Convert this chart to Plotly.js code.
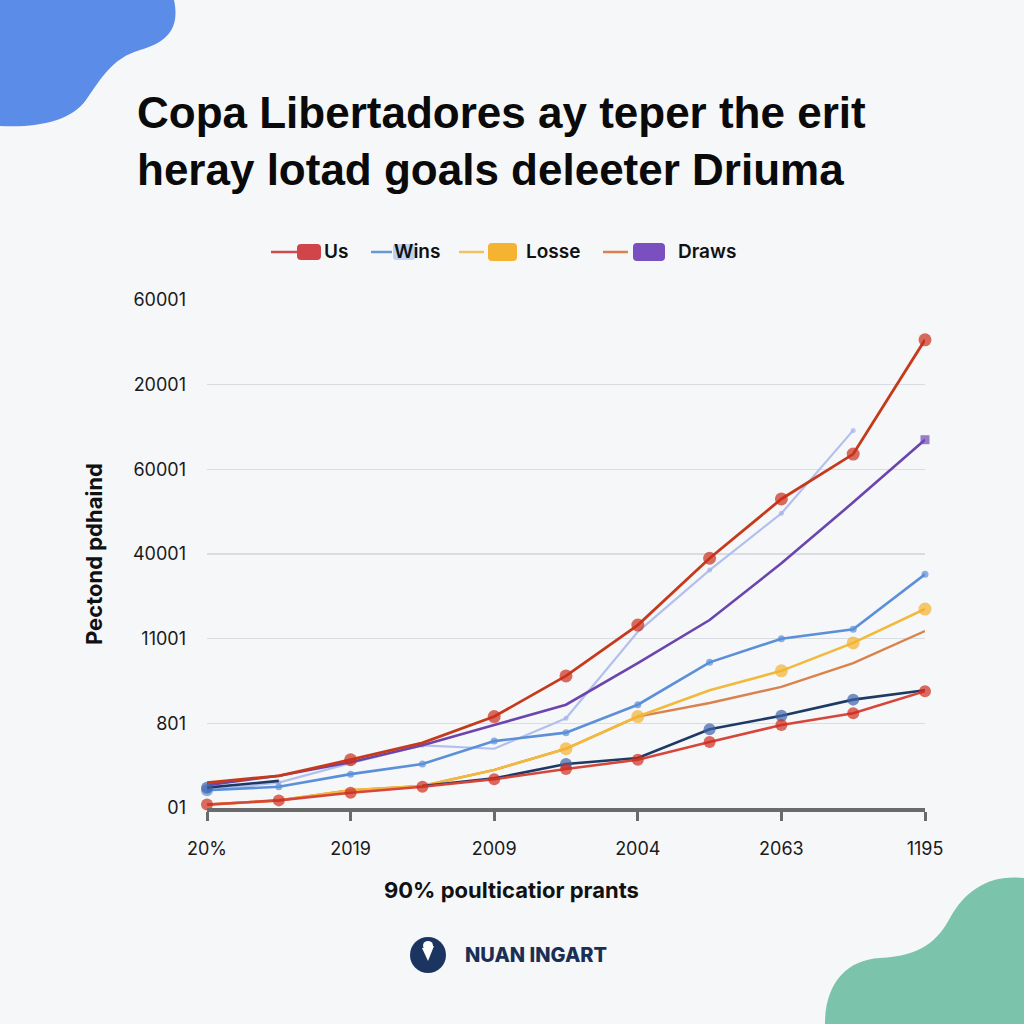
<!DOCTYPE html>
<html>
<head>
<meta charset="utf-8">
<script src="https://cdn.plot.ly/plotly-3.0.1.min.js"></script>
<style>
  html, body { margin: 0; padding: 0; background: #f5f7f9; }
  #chart { width: 1024px; height: 1024px; }
</style>
</head>
<body>
<div id="chart"></div>
<script>
// ---------- data ----------
const xIndex = [0, 1, 2, 3, 4, 5, 6, 7, 8, 9, 10];
const xTickVals = [0, 2, 4, 6, 8, 10];
const xTickText = ['20%', '2019', '2009', '2004', '2063', '1195'];
const yTickVals = [0, 1, 2, 3, 4, 5, 6];
const yTickText = ['01', '801', '11001', '40001', '60001', '20001', '60001'];

const seriesLavender = [0.21, 0.30, 0.53, 0.74, 0.70, 1.06, 2.08, 2.81, 3.48, 4.46, null];
const seriesPurple   = [0.27, 0.38, 0.54, 0.74, 0.98, 1.22, 1.71, 2.22, 2.89, 3.61, 4.35];
const seriesOrange   = [0.04, 0.09, 0.21, 0.26, 0.45, 0.70, 1.08, 1.24, 1.43, 1.71, 2.09];
const seriesYellow   = [0.04, 0.09, 0.21, 0.26, 0.45, 0.70, 1.08, 1.39, 1.62, 1.95, 2.35];
const seriesBlue     = [0.21, 0.25, 0.40, 0.52, 0.79, 0.89, 1.22, 1.72, 2.00, 2.11, 2.76];
const seriesNavy     = [0.24, 0.32, null, 0.26, 0.35, 0.52, 0.59, 0.93, 1.09, 1.28, 1.39];
const seriesRedLow   = [0.04, 0.09, 0.18, 0.25, 0.34, 0.46, 0.57, 0.78, 0.98, 1.12, 1.38];
const seriesRedTop   = [0.30, 0.38, 0.57, 0.77, 1.08, 1.56, 2.16, 2.95, 3.65, 4.18, 5.53];

const legendNames = ['Us', 'Wins', 'Losse', 'Draws'];

// ---------- layout helpers (pixel -> paper) ----------
const L = 207, R = 925, T = 300, B = 808;
const px = x => (x - L) / (R - L);
const py = y => (B - y) / (B - T);

function rrPath(x0, y0, x1, y1, r) {
  const P = (x, y) => px(x) + ',' + py(y);
  return 'M' + P(x0 + r, y0) + ' L' + P(x1 - r, y0) + ' Q' + P(x1, y0) + ' ' + P(x1, y0 + r) +
         ' L' + P(x1, y1 - r) + ' Q' + P(x1, y1) + ' ' + P(x1 - r, y1) +
         ' L' + P(x0 + r, y1) + ' Q' + P(x0, y1) + ' ' + P(x0, y1 - r) +
         ' L' + P(x0, y0 + r) + ' Q' + P(x0, y0) + ' ' + P(x0 + r, y0) + ' Z';
}
function pathPx(cmds) {
  return cmds.map(c => c[0] + (c.length > 1 ? ' ' : '') +
    c.slice(1).reduce((acc, v, i, arr) => {
      if (i % 2 === 0) acc.push(px(v) + ',' + py(arr[i + 1]));
      return acc;
    }, []).join(' ')).join(' ');
}
function sizesAt(idxList, size) {
  return xIndex.map(i => idxList.includes(i) ? size : 0);
}

// ---------- traces ----------
function line(y, color, width, mIdx, mSize, mColor, symbol) {
  return {
    type: 'scatter', mode: 'lines+markers', x: xIndex, y: y,
    line: { color: color, width: width },
    marker: { color: mColor || color, size: sizesAt(mIdx, mSize), symbol: symbol || 'circle', line: { width: 0 } },
    cliponaxis: false, showlegend: false, connectgaps: false, hoverinfo: 'y'
  };
}
const traces = [
  line(seriesLavender, '#b3c0ee', 2.2, [1, 2, 3, 5, 7, 8, 9], 5, '#a5b3e6'),
  line(seriesPurple, '#6b45ad', 2.6, [10], 9, '#7048b8', 'square'),
  line(seriesOrange, '#d9824b', 2.4, [], 0),
  line(seriesYellow, '#f2b93c', 2.6, [5, 6, 8, 9, 10], 13, '#f4b230'),
  line(seriesBlue, '#5b8fd8', 2.6, [0, 1, 2, 3, 4, 5, 6, 7, 8, 9, 10], 7, '#5b8fd8'),
  line(seriesNavy, '#1e3a64', 2.6, [0, 5, 7, 8, 9], 12, '#3f64a8'),
  line(seriesRedLow, '#d6463a', 2.6, xIndex, 12, '#cf2c1c'),
  line(seriesRedTop, '#c63a1c', 2.8, [2, 4, 5, 6, 7, 8, 9, 10], 13, '#cc2e1b')
];
traces[4].marker.size[0] = 12;

// ---------- decoration shapes ----------
const shapes = [
  { type: 'path', xref: 'paper', yref: 'paper', layer: 'below', line: { width: 0 }, fillcolor: '#5b8de8',
    path: pathPx([['M', 0, 0], ['L', 174, 0], ['C', 180, 28, 168, 42, 140, 50], ['C', 112, 58, 100, 80, 86, 100],
                  ['C', 72, 120, 40, 128, 0, 126], ['Z']]) },
  { type: 'path', xref: 'paper', yref: 'paper', layer: 'below', line: { width: 0 }, fillcolor: '#7bc3aa',
    path: pathPx([['M', 1024, 878], ['C', 990, 874, 965, 890, 950, 918], ['C', 938, 940, 922, 956, 880, 958],
                  ['C', 845, 960, 825, 985, 825, 1024], ['L', 1024, 1024], ['Z']]) },
  { type: 'circle', xref: 'paper', yref: 'paper', line: { width: 0 }, fillcolor: '#1b3560',
    x0: px(410), x1: px(446), y0: py(973), y1: py(937) },
  { type: 'path', xref: 'paper', yref: 'paper', line: { width: 0 }, fillcolor: '#ffffff',
    path: pathPx([['M', 422, 948], ['L', 434, 946], ['L', 428, 961], ['Z']]) },
  { type: 'circle', xref: 'paper', yref: 'paper', line: { width: 0 }, fillcolor: '#ffffff',
    x0: px(423), x1: px(433), y0: py(950), y1: py(941) },
  { type: 'line', xref: 'paper', yref: 'paper', x0: px(271), x1: px(297), y0: py(252), y1: py(252), line: { color: '#cf4a4e', width: 2.5 } },
  { type: 'path', xref: 'paper', yref: 'paper', line: { width: 0 }, fillcolor: '#d0454a', path: rrPath(297, 244, 321, 260, 4) },
  { type: 'line', xref: 'paper', yref: 'paper', x0: px(371), x1: px(392), y0: py(252), y1: py(252), line: { color: '#6a97d8', width: 2.5 } },
  { type: 'path', xref: 'paper', yref: 'paper', line: { width: 0 }, fillcolor: '#bcd3f1', path: rrPath(393, 244, 415, 260, 3) },
  { type: 'line', xref: 'paper', yref: 'paper', x0: px(459), x1: px(484), y0: py(252), y1: py(252), line: { color: '#f3c260', width: 2.5 } },
  { type: 'path', xref: 'paper', yref: 'paper', line: { width: 0 }, fillcolor: '#f5b332', path: rrPath(488, 243, 517, 261, 4) },
  { type: 'line', xref: 'paper', yref: 'paper', x0: px(603), x1: px(628), y0: py(252), y1: py(252), line: { color: '#d9824b', width: 2.5 } },
  { type: 'path', xref: 'paper', yref: 'paper', line: { width: 0 }, fillcolor: '#7a4fc0', path: rrPath(633, 243, 665, 261, 4) }
];

const legendFont = { family: 'Inter, Roboto, sans-serif', size: 19, color: '#111111', weight: 600 };
const annotations = [
  { xref: 'paper', yref: 'paper', x: px(322), y: py(252), text: legendNames[0], showarrow: false, xanchor: 'left', yanchor: 'middle', font: legendFont },
  { xref: 'paper', yref: 'paper', x: px(392), y: py(252), text: legendNames[1], showarrow: false, xanchor: 'left', yanchor: 'middle', font: legendFont },
  { xref: 'paper', yref: 'paper', x: px(524), y: py(252), text: legendNames[2], showarrow: false, xanchor: 'left', yanchor: 'middle', font: legendFont },
  { xref: 'paper', yref: 'paper', x: px(676), y: py(252), text: legendNames[3], showarrow: false, xanchor: 'left', yanchor: 'middle', font: legendFont },
  { xref: 'paper', yref: 'paper', x: px(511), y: py(890), text: '90% poulticatior prants', showarrow: false, xanchor: 'center', yanchor: 'middle',
    font: { family: 'Inter, Roboto, sans-serif', size: 22, color: '#111111', weight: 700 } },
  { xref: 'paper', yref: 'paper', x: px(463), y: py(955), text: 'NUAN INGART', showarrow: false, xanchor: 'left', yanchor: 'middle',
    font: { family: 'Inter, Roboto, sans-serif', size: 20, color: '#1b2f55', weight: 800 } }
];

const layout = {
  width: 1024, height: 1024,
  margin: { l: L, r: 1024 - R, t: T, b: 1024 - B, pad: 0 },
  paper_bgcolor: '#f5f7f9', plot_bgcolor: '#f5f7f9',
  showlegend: false,
  title: {
    text: 'Copa Libertadores ay teper the erit<br>heray lotad goals deleeter Driuma',
    xref: 'container', yref: 'container', x: 137 / 1024, xanchor: 'left', y: 1 - 128 / 1024, yanchor: 'top',
    font: { family: '"Liberation Sans", Arial, sans-serif', size: 44, color: '#0a0a0a', weight: 700 }
  },
  xaxis: {
    range: [0, 10], tickvals: xTickVals, ticktext: xTickText,
    showgrid: false, zeroline: false, showline: true, linecolor: '#6b6b6b', linewidth: 4,
    ticks: 'outside', ticklen: 9, tickwidth: 3, tickcolor: '#6b6b6b', ticklabelstandoff: 12,
    tickfont: { family: 'Inter, Roboto, sans-serif', size: 18, color: '#1a1a1a' }, fixedrange: true
  },
  yaxis: {
    range: [0, 6], tickvals: yTickVals, ticktext: yTickText,
    showgrid: true, gridcolor: '#d9dce1', gridwidth: 1.5, zeroline: false, showline: false,
    ticks: '', ticklabelstandoff: 20,
    tickfont: { family: 'Inter, Roboto, sans-serif', size: 18, color: '#1a1a1a' },
    title: { text: 'Pectond pdhaind', standoff: 24, font: { family: 'Inter, Roboto, sans-serif', size: 22, color: '#111111', weight: 700 } },
    fixedrange: true
  },
  shapes: shapes,
  annotations: annotations
};

Plotly.newPlot('chart', traces, layout, { displayModeBar: false, staticPlot: true });
</script>
</body>
</html>
